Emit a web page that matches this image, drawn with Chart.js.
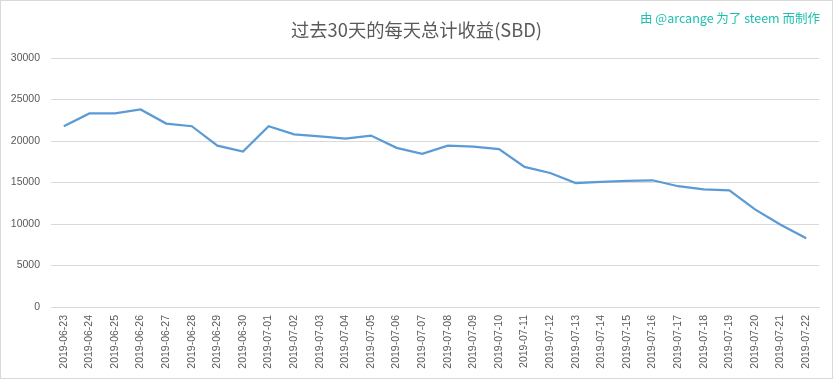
<!DOCTYPE html>
<html>
<head>
<meta charset="utf-8">
<script src="https://cdn.jsdelivr.net/npm/chart.js@4.4.0/dist/chart.umd.min.js"></script>
<style>
html,body{margin:0;padding:0;background:#fff;}
#wrap{position:absolute;left:0;top:0;width:831px;height:377px;border:1px solid #d9d9d9;background:#fff;}
#credit{position:absolute;right:12px;top:7px;font-family:"Noto Sans CJK SC","Noto Sans",sans-serif;font-size:12.5px;color:#1dbfae;}
</style>
</head>
<body>
<div id="wrap"><canvas id="c" width="831" height="377"></canvas><div id="credit">由 @arcange 为了 steem 而制作</div></div>
<script>
const categories = ["2019-06-23","2019-06-24","2019-06-25","2019-06-26","2019-06-27","2019-06-28","2019-06-29","2019-06-30","2019-07-01","2019-07-02","2019-07-03","2019-07-04","2019-07-05","2019-07-06","2019-07-07","2019-07-08","2019-07-09","2019-07-10","2019-07-11","2019-07-12","2019-07-13","2019-07-14","2019-07-15","2019-07-16","2019-07-17","2019-07-18","2019-07-19","2019-07-20","2019-07-21","2019-07-22"];
const earnings = [21780,23320,23320,23800,22100,21780,19440,18720,21780,20810,20570,20290,20650,19170,18450,19450,19310,19030,16880,16150,14940,15070,15190,15270,14550,14180,14060,11760,9900,8270];
const yTicks = [0,5000,10000,15000,20000,25000,30000];
const titleText = "过去30天的每天总计收益(SBD)";

const centeredTitle = {
  id:'centeredTitle',
  afterDraw(chart){
    const ctx = chart.ctx;
    ctx.save();
    ctx.font = "normal 18.3px 'Noto Sans CJK SC', sans-serif";
    ctx.fillStyle = '#595959';
    ctx.textAlign = 'center';
    ctx.textBaseline = 'middle';
    ctx.fillText(titleText, chart.width/2, 29);
    ctx.restore();
  }
};

const tickFont = {family:"'Liberation Sans', 'Noto Sans', sans-serif", size:10.5};
new Chart(document.getElementById('c'), {
  type:'line',
  data:{labels:categories, datasets:[{data:earnings, borderColor:'#5b9bd5', borderWidth:2.25, pointRadius:0, tension:0, fill:false}]},
  options:{
    responsive:false, animation:false,
    layout:{padding:{left:0,right:13,top:57,bottom:6}},
    plugins:{legend:{display:false}, tooltip:{enabled:false}, title:{display:false}},
    scales:{
      x:{type:'category', offset:true,
        afterFit:(s)=>{s.height = 65;},
        grid:{display:false, drawTicks:false},
        border:{display:true, color:'#d9d9d9'},
        ticks:{color:'#595959', font:tickFont, minRotation:90, maxRotation:90, autoSkip:false, padding:8}
      },
      y:{min:0, max:30000,
        afterBuildTicks:(s)=>{s.ticks = yTicks.map(v=>({value:v}));},
        afterFit:(s)=>{s.width = 50;},
        grid:{color:'#d9d9d9', drawTicks:false},
        border:{display:false},
        ticks:{color:'#595959', font:tickFont, padding:11, callback:(v)=>String(v)}
      }
    }
  },
  plugins:[centeredTitle]
});
</script>
</body>
</html>
